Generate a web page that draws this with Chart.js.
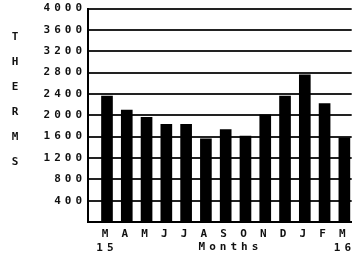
<!DOCTYPE html>
<html>
<head>
<meta charset="utf-8">
<title>Therms by month</title>
<script src="https://cdn.jsdelivr.net/npm/chart.js@4"></script>
<style>
  body { margin: 0; background: #fff; }
  #wrap { position: relative; width: 352px; height: 254px; overflow: hidden; }
  #side { position: absolute; left: 9px; top: 24px; width: 12px; font: bold 11px 'DejaVu Sans Mono', monospace; line-height: 25px; text-align: center; color: #111; }
</style>
</head>
<body>
<div id="wrap">
  <canvas id="myChart"></canvas>
  <div id="side">T<br>H<br>E<br>R<br>M<br>S</div>
</div>
<script>
'use strict';

//Data
var months = ['M', 'A', 'M', 'J', 'J', 'A', 'S', 'O', 'N', 'D', 'J', 'F', 'M'];
var years = ['15', '', '', '', '', '', '', '', '', '', '', '', '16'];
var therms = [2360, 2100, 1960, 1830, 1830, 1560, 1730, 1610, 2010, 2360, 2760, 2220, 1580];
var yTicks = [0, 400, 800, 1200, 1600, 2000, 2400, 2800, 3200, 3600, 4000];

var tickFont = { family: 'DejaVu Sans Mono', weight: 'bold', size: 11 };

//wide old-terminal look for the labels
var spacing = {
  id: 'spacing',
  beforeLayout: function (chart) { chart.ctx.letterSpacing = '4px'; },
  beforeDraw: function (chart) { chart.ctx.letterSpacing = '4px'; }
};

var ctx = document.getElementById('myChart').getContext('2d');
var chart = new Chart(ctx, {
  type: 'bar',
  data: {
    datasets: [{
      label: 'Therms',
      backgroundColor: '#000',
      barThickness: 11,
      data: therms.map(function (v, i) { return { x: i, y: v }; })
    }]
  },
  options: {
    responsive: true,
    maintainAspectRatio: false,
    animation: false,
    layout: { padding: { top: 2, right: 0, left: 0, bottom: 0 } },
    plugins: { legend: { display: false }, tooltip: { enabled: false } },
    scales: {
      x: {
        type: 'linear',
        min: -0.96,
        max: 12.37,
        offset: false,
        grid: { display: false, offset: false },
        border: { color: '#000', width: 2 },
        afterBuildTicks: function (scale) {
          scale.ticks = months.map(function (m, i) { return { value: i }; });
        },
        ticks: {
          autoSkip: false,
          maxRotation: 0,
          padding: -3,
          color: '#111',
          font: { family: 'DejaVu Sans Mono', weight: 'bold', size: 11, lineHeight: '14px' },
          callback: function (value) {
            var i = Math.round(value);
            return years[i] ? [months[i], years[i]] : months[i];
          }
        },
        title: {
          display: true,
          // leading spaces nudge it right, like the original
          text: '  Months',
          color: '#111',
          font: { family: 'DejaVu Sans Mono', weight: 'bold', size: 11, lineHeight: '14px' },
          padding: { top: -12, bottom: 0 }
        }
      },
      y: {
        min: 0,
        max: 4000,
        afterBuildTicks: function (scale) {
          scale.ticks = yTicks.map(function (v) { return { value: v }; });
        },
        afterFit: function (scale) { scale.width = 88; },
        grid: { color: '#222', lineWidth: 2, drawTicks: false },
        border: { color: '#000', width: 2 },
        ticks: {
          padding: 2,
          color: '#111',
          font: tickFont,
          callback: function (value) { return value === 0 ? '' : String(value); }
        }
      }
    }
  },
  plugins: [spacing]
});
</script>
</body>
</html>
